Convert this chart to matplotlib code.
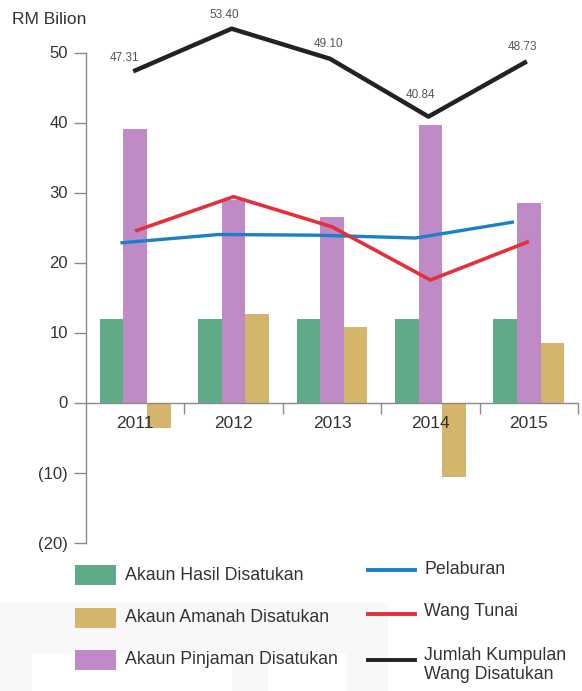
import matplotlib
matplotlib.use("Agg")
import matplotlib.pyplot as plt
from matplotlib.patches import Rectangle
from matplotlib.lines import Line2D
import numpy as np

plt.rcParams['font.family'] = ['Liberation Sans', 'DejaVu Sans']

years = ["2011", "2012", "2013", "2014", "2015"]
akaun_hasil = [11.9, 11.9, 11.9, 11.9, 11.9]
akaun_amanah = [-3.6, 12.6, 10.8, -10.7, 8.5]
akaun_pinjaman = [39.1, 29.0, 26.5, 39.7, 28.5]
pelaburan = [22.8, 24.0, 23.9, 23.5, 25.8]
wang_tunai = [24.5, 29.4, 25.1, 17.5, 23.0]
jumlah = [47.31, 53.40, 49.10, 40.84, 48.73]
jumlah_labels = ["47.31", "53.40", "49.10", "40.84", "48.73"]

yticks = [50, 40, 30, 20, 10, 0, -10, -20]
ytick_labels = ["50", "40", "30", "20", "10", "0", "(10)", "(20)"]

c_green = "#5fab87"
c_gold = "#d4b56b"
c_purple = "#c08ac6"
c_blue = "#1b80c6"
c_red = "#e2303c"
c_black = "#222222"
c_axis = "#8a8a8a"
c_text = "#333333"

W, H = 582, 691
fig = plt.figure(figsize=(W / 100, H / 100), dpi=100)

# faint scan background artifact
fig.add_artist(Rectangle((0, 0), 388 / W, 88 / H, transform=fig.transFigure,
                         facecolor="#f8f8f8", edgecolor="none", zorder=-5))
fig.add_artist(Rectangle((32 / W, 0), 200 / W, 38 / H, transform=fig.transFigure,
                         facecolor="white", edgecolor="none", zorder=-4))
fig.add_artist(Rectangle((268 / W, 0), 78 / W, 38 / H, transform=fig.transFigure,
                         facecolor="white", edgecolor="none", zorder=-4))

ax = fig.add_axes([86 / W, 1 - 542.5 / H, 492 / W, 490 / H])
ax.set_facecolor("none")

x = np.arange(len(years))
bw = 0.24
ax.bar(x - bw, akaun_hasil, bw, color=c_green, zorder=2)
ax.bar(x, akaun_pinjaman, bw, color=c_purple, zorder=2)
ax.bar(x + bw, akaun_amanah, bw, color=c_gold, zorder=2)

ax.plot(x - 0.15, pelaburan, color=c_blue, lw=2.4, zorder=3, solid_capstyle="butt")
ax.plot(x, wang_tunai, color=c_red, lw=2.6, zorder=4, solid_capstyle="butt")
ax.plot(x - 0.02, jumlah, color=c_black, lw=3.2, zorder=5, clip_on=False,
        solid_capstyle="butt")

label_offsets = [(-6, 5.5), (-5, 5.5), (-1, 6), (-6, 11), (-3, 6)]
for xi, v, lab, off in zip(x, jumlah, jumlah_labels, label_offsets):
    ax.annotate(lab, (xi - 0.02, v), xytext=off, textcoords="offset points",
                ha="center", va="bottom", fontsize=8.5, color="#555555",
                annotation_clip=False)

ax.set_xlim(-0.5, 4.5)
ax.set_ylim(-20, 50)

for s in ["top", "right"]:
    ax.spines[s].set_visible(False)
ax.spines["left"].set_color(c_axis)
ax.spines["left"].set_linewidth(1.0)
ax.spines["bottom"].set_position(("data", 0))
ax.spines["bottom"].set_color(c_axis)
ax.spines["bottom"].set_linewidth(1.0)
ax.spines["bottom"].set_zorder(6)
ax.xaxis.set_zorder(7)

ax.set_yticks(yticks)
ax.set_yticklabels(ytick_labels)
ax.tick_params(axis="y", length=9, width=1, color=c_axis, pad=4,
               labelsize=12, labelcolor=c_text)

ax.set_xticks(x)
ax.set_xticklabels(years)
ax.set_xticks(np.arange(0.5, 5, 1.0), minor=True)
ax.tick_params(axis="x", which="major", length=0, pad=10, labelsize=12.5,
               labelcolor=c_text)
ax.tick_params(axis="x", which="minor", length=8, width=1, color=c_axis)

fig.text(12 / W, 1 - 19 / H, "RM Bilion", fontsize=12.5, color=c_text,
         ha="left", va="center")

# legend
bar_items = [(c_green, "Akaun Hasil Disatukan", 575),
             (c_gold, "Akaun Amanah Disatukan", 618),
             (c_purple, "Akaun Pinjaman Disatukan", 660)]
for col, lab, yc in bar_items:
    fig.add_artist(Rectangle((75 / W, 1 - (yc + 10) / H), 41 / W, 20 / H,
                             transform=fig.transFigure, facecolor=col,
                             edgecolor="none"))
    fig.text(125 / W, 1 - yc / H, lab, fontsize=12.8, color=c_text,
             ha="left", va="center")

line_items = [(c_blue, "Pelaburan", 570, 569),
              (c_red, "Wang Tunai", 614, 611),
              (c_black, "Jumlah Kumpulan\nWang Disatukan", 660, 665)]
for col, lab, yl, yt in line_items:
    fig.add_artist(Line2D([368 / W, 415 / W], [1 - yl / H, 1 - yl / H],
                          transform=fig.transFigure, color=col, lw=2.8))
    fig.text(424 / W, 1 - yt / H, lab, fontsize=12.8, color=c_text,
             ha="left", va="center", linespacing=1.15)

fig.savefig("out.png", dpi=100)
